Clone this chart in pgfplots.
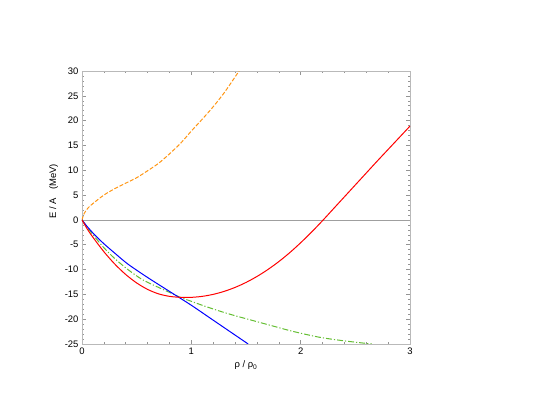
\documentclass[border=0pt]{standalone}
\usepackage{fontspec}
\setmainfont{Liberation Sans}
\usepackage{pgfplots}
\pgfplotsset{compat=1.18}

\definecolor{orng}{RGB}{255,150,20}
\definecolor{grn}{RGB}{100,190,50}
\definecolor{frame}{RGB}{185,185,185}

\begin{document}
\begin{tikzpicture}
\begin{axis}[
  name=ax,
  scale only axis,
  width=328bp, height=273bp,
  xmin=0, xmax=3, ymin=-25, ymax=30,
  xtick={0,1,2,3}, ytick={-25,-20,...,30},
  minor x tick num=4, minor y tick num=4,
  tick align=inside,
  major tick length=4bp, minor tick length=2bp,
  axis line style={frame, line width=0.9pt},
  tick style={frame!80!black, line width=0.5pt},
  every tick label/.append style={font=\fontsize{9.5}{11}\selectfont},
  /pgf/number format/assume math mode=true,
  xlabel={\fontsize{9.5}{11}\selectfont ρ / ρ\textsubscript{0}},
  ylabel={\fontsize{9.5}{11}\selectfont E / A \ \ (MeV)},
  ylabel style={at={(ticklabel cs:0.56)}},
]
\addplot[gray!75, line width=0.6pt, no marks] coordinates {(0,0) (3,0)};
\addplot[orng, line width=1pt, dash pattern=on 4pt off 1.8pt, smooth, no marks] coordinates {
  (0,0) (0.02,1.3) (0.055,2.4) (0.1,3.3) (0.2,5.0) (0.3,6.3) (0.4,7.4)
  (0.5,8.5) (0.6,9.9) (0.7,11.4) (0.8,13.3) (0.9,15.4) (1.0,17.9)
  (1.1,20.3) (1.2,22.8) (1.3,25.6) (1.4,28.8) (1.46,30.8)
};
\addplot[grn, line width=1pt, dash pattern=on 6pt off 2pt on 1.2pt off 2pt, smooth, no marks] coordinates {
  (0,0) (0.05,-1.6) (0.116,-3.4) (0.2,-5.6) (0.3,-7.8) (0.42,-10.0)
  (0.55,-12.0) (0.7,-13.6) (0.8,-14.6) (0.9,-15.6) (1.0,-16.4) (1.1,-17.2)
  (1.2,-17.95) (1.3,-18.65) (1.4,-19.3) (1.5,-19.9) (1.6,-20.5) (1.75,-21.4)
  (1.9,-22.3) (2.055,-23.1) (2.2,-23.75) (2.41,-24.4) (2.65,-25.0)
};
\addplot[blue, line width=1pt, smooth, no marks] coordinates {
  (0,0) (0.05,-1.4) (0.116,-3.0) (0.2,-4.8) (0.3,-6.7) (0.42,-8.9)
  (0.6,-11.6) (0.8,-14.4) (1.0,-17.2) (1.2,-20.2) (1.4,-23.2) (1.52,-25.0)
};
\addplot[red, line width=1pt, smooth, no marks] coordinates {
  (0,0) (0.05,-1.9) (0.1,-3.5) (0.2,-6.4) (0.3,-8.9) (0.4,-11.0)
  (0.5,-12.7) (0.6,-14.0) (0.7,-14.9) (0.8,-15.4) (0.9,-15.6) (1.0,-15.6)
  (1.1,-15.4) (1.2,-15.0) (1.3,-14.4) (1.4,-13.6) (1.5,-12.6) (1.6,-11.4)
  (1.7,-10.0) (1.8,-8.4) (1.9,-6.6) (2.0,-4.6) (2.1,-2.45) (2.2,-0.15)
  (2.3,2.25) (2.4,4.65) (2.5,7.05) (2.6,9.45) (2.7,11.85) (2.8,14.2)
  (2.9,16.55) (3.0,18.9)
};
\end{axis}
\path[use as bounding box] ([shift={(-82bp,-71bp)}]ax.south west) rectangle ++(537bp,415bp);
\end{tikzpicture}
\end{document}
